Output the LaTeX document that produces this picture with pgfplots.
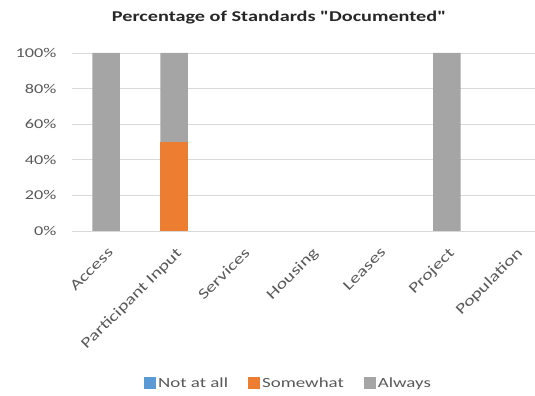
\documentclass[border=0pt]{standalone}
\usepackage{pgfplots}
\pgfplotsset{compat=1.18}
\usepackage{fontspec}
\setmainfont{Carlito}[FakeStretch=1.35]
\newfontfamily\titlefont{Carlito}[FakeStretch=1.35]
\definecolor{cblue}{HTML}{5B9BD5}
\definecolor{corange}{HTML}{ED7D31}
\definecolor{cgrey}{HTML}{A5A5A5}
\definecolor{cgrid}{HTML}{D9D9D9}
\definecolor{ctext}{HTML}{595959}
\begin{document}
\begin{tikzpicture}
\useasboundingbox (0,0) rectangle (535bp,396bp);
\begin{axis}[
  at={(72bp,165bp)}, anchor=south west,
  scale only axis, width=477bp, height=178bp,
  ybar stacked, bar width=27.5bp,
  xmin=-0.5, xmax=6.5, ymin=0, ymax=100,
  xtick={0,...,6},
  xticklabels={Access,Participant Input,Services,Housing,Leases,Project,Population},
  ytick={0,20,40,60,80,100},
  yticklabels={0\%,20\%,40\%,60\%,80\%,100\%},
  tick style={draw=none},
  axis line style={draw=none},
  ymajorgrids, grid style={cgrid, line width=0.9bp},
  font=\fontsize{13.5bp}{15bp}\selectfont,
  ticklabel style={text=ctext},
  yticklabel style={anchor=east, xshift=-12bp},
  xticklabel style={yshift=-14bp, xshift=1bp, rotate=45, anchor=north east, inner sep=1bp,
    font=\fontsize{14.8bp}{16bp}\selectfont},
  title={\titlefont\bfseries Percentage of Standards "Documented"},
  title style={at={(axis description cs:0.434,1.165)}, anchor=center, font=\fontsize{15bp}{17bp}\selectfont, text=black!85},
  legend columns=3,
  legend style={at={(axis description cs:0.454,-0.854)}, anchor=center, draw=none, fill=none,
    font=\fontsize{14bp}{16bp}\selectfont, text=ctext,
    /tikz/every even column/.append style={column sep=18bp}},
  legend image code/.code={\fill[#1] (0bp,-6bp) rectangle (12bp,6bp);},
]
\addplot[fill=cblue, draw=none] coordinates {(0,0) (1,0) (2,0) (3,0) (4,0) (5,0) (6,0)};
\addplot[fill=corange, draw=none] coordinates {(0,0) (1,50) (2,0) (3,0) (4,0) (5,0) (6,0)};
\addplot[fill=cgrey, draw=none] coordinates {(0,100) (1,50) (2,0) (3,0) (4,0) (5,100) (6,0)};
\legend{Not at all,Somewhat,Always}
\end{axis}
\end{tikzpicture}
\end{document}
